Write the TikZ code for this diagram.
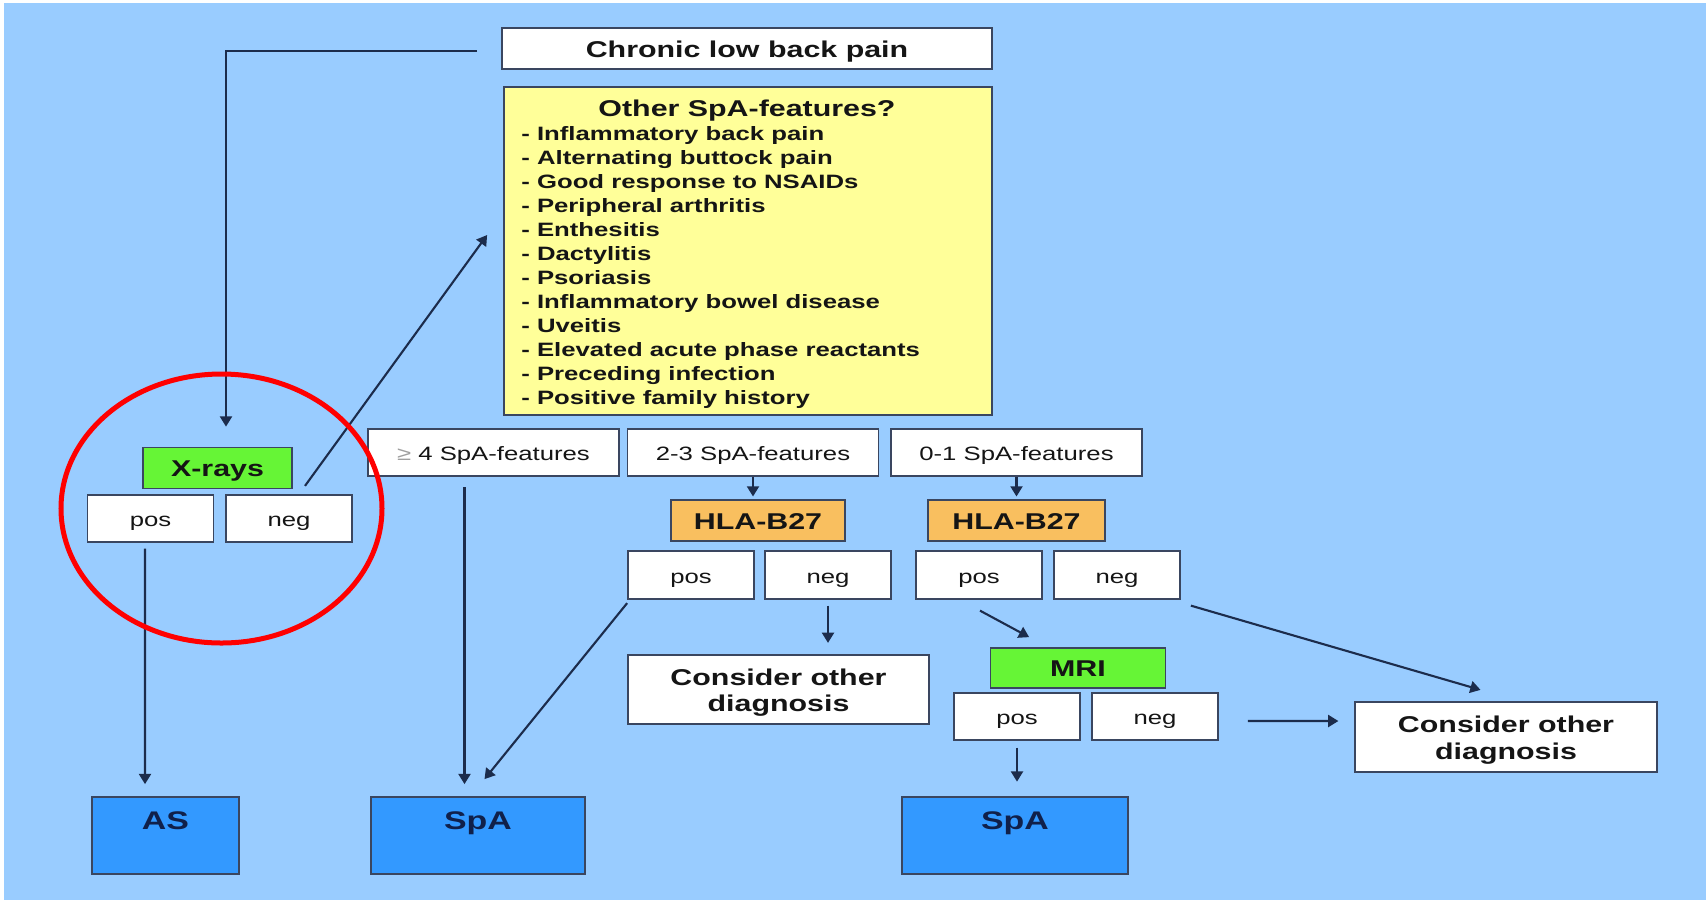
\documentclass[tikz,border=0pt]{standalone}
\usepackage{fontspec}
\setmainfont[FakeStretch=1.33]{Liberation Sans}
\usetikzlibrary{arrows.meta}

\definecolor{bg}{HTML}{99CCFF}
\definecolor{note}{HTML}{FFFF99}
\definecolor{go}{HTML}{66F536}
\definecolor{hla}{HTML}{F9BF5F}
\definecolor{resblue}{HTML}{3399FF}
\definecolor{edge}{HTML}{3A4660}
\definecolor{ink}{HTML}{151515}
\definecolor{deep}{HTML}{10204A}
\definecolor{wire}{HTML}{1C2C4C}

\begin{document}
\begin{tikzpicture}[
  box/.style={draw=edge,line width=1pt,fill=white,inner sep=0pt,text=ink},
  feature/.style={box,minimum width=5.02cm,minimum height=0.94cm,text height=8.8pt,text depth=0pt,font=\fontsize{11}{13}\selectfont},
  answer/.style={box,minimum width=2.52cm,minimum height=0.95cm,text height=9.2pt,text depth=0pt,font=\fontsize{11}{13}\selectfont},
  test/.style={box,minimum height=0.82cm,text height=9.8pt,text depth=0pt,font=\fontsize{13}{15}\selectfont\bfseries},
  other/.style={box,minimum width=6.03cm,minimum height=1.39cm,align=center,text height=25.4pt,text depth=0pt,font=\fontsize{13}{15.2}\selectfont\bfseries},
  result/.style={box,fill=resblue,text=deep,text height=0.643cm,text depth=0.897cm,font=\fontsize{14.5}{16}\selectfont\bfseries},
  arr/.style={color=wire,line width=1.2pt,-{Triangle[length=5.8pt,width=6.8pt]}}
]

\useasboundingbox (0,0) rectangle (34.12,-18);
\fill[white] (0,0) rectangle (34.12,-18);
\fill[bg] (0.07,-0.06) rectangle (34.12,-18);

% question and features
\node[test,minimum width=9.8cm] (chronic) at (14.94,-0.97) {Chronic low back pain};
\node[box,fill=note,minimum width=9.76cm,minimum height=6.56cm] (feat) at (14.96,-5.02) {};
\node[anchor=base,inner sep=0pt,text=ink,font=\fontsize{13}{15}\selectfont\bfseries] (title) at (14.94,-2.32) {Other SpA-features?};
\foreach \t [count=\i] in {Inflammatory back pain,Alternating buttock pain,
  Good response to NSAIDs,Peripheral arthritis,Enthesitis,Dactylitis,Psoriasis,
  Inflammatory bowel disease,Uveitis,Elevated acute phase reactants,
  Preceding infection,Positive family history}
  \node[anchor=base west,inner sep=0pt,text=ink,font=\fontsize{11}{13}\selectfont\bfseries]
    (item\i) at (10.42,{-2.8-0.48*(\i-1)}) {- \t};

\node[feature] (f4) at (9.87,-9.05) {{\color{gray!75}≥} 4 SpA-features};
\node[feature] (f23) at (15.06,-9.05) {2-3 SpA-features};
\node[feature] (f01) at (20.33,-9.05) {0-1 SpA-features};

% x-rays
\node[test,fill=go,minimum width=2.98cm] (xray) at (4.35,-9.36) {X-rays};
\node[answer] (xpos) at (3.01,-10.37) {pos};
\node[answer] (xneg) at (5.78,-10.37) {neg};

% hla-b27
\node[test,fill=hla,minimum width=3.48cm] (hla1) at (15.16,-10.41) {HLA-B27};
\node[test,fill=hla,minimum width=3.54cm] (hla2) at (20.33,-10.41) {HLA-B27};
\node[answer] (hpos1) at (13.82,-11.5) {pos};
\node[answer] (hneg1) at (16.56,-11.5) {neg};
\node[answer] (hpos2) at (19.58,-11.5) {pos};
\node[answer] (hneg2) at (22.34,-11.5) {neg};

\node[other] (cons1) at (15.57,-13.79) {Consider other\\diagnosis};

% mri
\node[test,fill=go,minimum width=3.5cm,minimum height=0.8cm] (mri) at (21.56,-13.36) {MRI};
\node[answer] (mpos) at (20.34,-14.33) {pos};
\node[answer] (mneg) at (23.1,-14.33) {neg};
\node[other] (cons2) at (30.12,-14.74) {Consider other\\diagnosis};

% outcomes
\node[result,minimum width=2.94cm] (as) at (3.31,-16.71) {AS};
\node[result,minimum width=4.28cm] (spa1) at (9.56,-16.71) {SpA};
\node[result,minimum width=4.51cm] (spa2) at (20.3,-16.71) {SpA};

\draw[arr,shorten <=0.48cm] ([yshift=-0.05cm]chronic.west) -| ([xshift=0.17cm,yshift=0.4cm]xray.north);
\draw[arr] ([shift={(0.32,0.16)}]xneg.north) -- ([shift={(-0.32,0.32)}]feat.west);
\draw[arr] ([xshift=-0.11cm,yshift=-0.11cm]xpos.south) -- ([xshift=-0.41cm,yshift=0.24cm]as.north);
\draw[arr] ([xshift=-0.58cm,yshift=-0.21cm]f4.south) -- ([xshift=-0.27cm,yshift=0.24cm]spa1.north);
\draw[arr] ([yshift=-0.07cm]hpos1.south west) -- ([shift={(0.13,0.34)}]spa1.north);
\draw[arr,shorten >=1.5pt] (f23.south) -- (f23.south |- hla1.north);
\draw[arr,shorten >=1.5pt] (f01.south) -- (f01.south |- hla2.north);
\draw[arr,shorten <=0.12cm,shorten >=0.22cm] (hneg1.south) -- (hneg1.south |- cons1.north);
\draw[arr] ([shift={(0.02,-0.22)}]hpos2.south) -- ([shift={(0.79,0.2)}]mri.north west);
\draw[arr] ([shift={(0.2,-0.12)}]hneg2.south east) -- ([shift={(-0.51,0.23)}]cons2.north);
\draw[arr] ([shift={(0.58,-0.09)}]mneg.east) -- ([shift={(-0.32,0.32)}]cons2.west);
\draw[arr,shorten <=0.13cm,shorten >=0.29cm] (mpos.south) -- (mpos.south |- spa2.north);

\draw[red,line width=0.1cm] (4.43,-10.17) ellipse [x radius=3.21,y radius=2.69];

\end{tikzpicture}
\end{document}
